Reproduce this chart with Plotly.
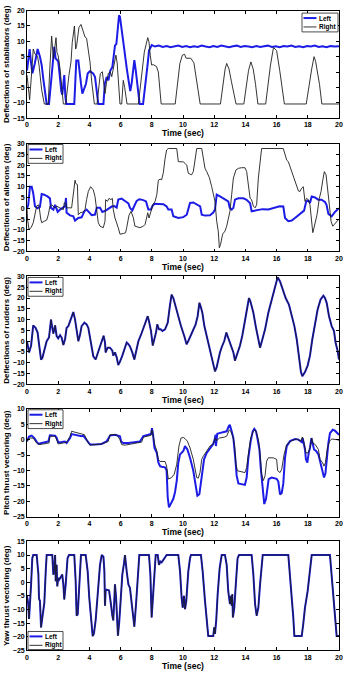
import plotly.graph_objects as go

# ---------------- data (time [s], deflection [deg]) ----------------
stab_left = [(0, 0.5), (0.1, 4), (0.17, 7.5), (0.26, 3), (0.35, -0.4), (0.5, 2.8), (0.68, 7.5), (0.83, 5),
             (0.94, 2.3), (1.05, -2.5), (1.26, -10.4), (1.41, -10.4), (1.53, -3.8), (1.66, 5), (1.75, 8.2),
             (1.83, 4.5), (2.0, 3.5), (2.04, 1.8), (2.14, -4.7), (2.2, -6.3), (2.26, -7.4), (2.35, -2.5),
             (2.39, -1), (2.46, -8), (2.52, -10.4), (3.03, -10.4), (3.08, -5), (3.16, 3.8), (3.29, 3.8),
             (3.35, 0.5), (3.46, -3.8), (3.55, -7), (3.68, -5.4), (3.78, -3.8), (3.89, -0.5), (4.04, 0.3),
             (4.25, -0.5), (4.36, -1.6), (4.57, -10.4), (4.9, -10.4), (4.99, -3.8), (5.11, -1.6), (5.22, -2.7),
             (5.34, 0.5), (5.47, 1.6), (5.55, 5), (5.64, 8.6), (5.73, 9.2), (5.9, 18.5), (5.96, 18),
             (6.07, 13.5), (6.2, 9.2), (6.28, 6), (6.41, 0.6), (6.54, -3.7), (6.62, -6.2), (6.71, -3.6),
             (6.82, 0.6), (6.88, 3.9), (6.97, 0.6), (7.05, -3.7), (7.14, -8), (7.22, -10.4), (7.44, -10.4),
             (7.52, -7.2), (7.61, -3.8), (7.74, 2.8), (7.82, 7), (7.95, 8.2), (8.0, 8.8), (8.2, 8.3),
             (8.45, 8.6), (8.7, 8.2), (8.95, 8.5), (9.2, 8.1), (9.45, 8.4), (9.7, 8.6), (9.95, 8.2),
             (10.2, 8.5), (10.45, 8.1), (10.7, 8.4), (10.95, 8.2), (11.2, 8.6), (11.45, 8.3), (11.7, 8.1),
             (11.95, 8.5), (12.2, 8.2), (12.45, 8.6), (12.7, 8.3), (12.95, 8.1), (13.2, 8.4), (13.45, 8.6),
             (13.7, 8.2), (13.95, 8.5), (14.2, 8.3), (14.45, 8.1), (14.7, 8.5), (14.95, 8.2), (15.2, 8.4),
             (15.45, 8.6), (15.7, 8.2), (15.95, 8.4), (16.2, 8.1), (16.45, 8.5), (16.7, 8.3), (16.95, 8.6),
             (17.2, 8.2), (17.45, 8.4), (17.7, 8.1), (17.95, 8.5), (18.2, 8.3), (18.45, 8.6), (18.7, 8.2),
             (18.95, 8.4), (19.2, 8.1), (19.45, 8.5), (19.7, 8.3), (20, 8.4)]
stab_right = [(0, -1), (0.08, -5), (0.17, -9), (0.3, 0), (0.4, 7.5), (0.5, 6), (0.68, 5), (0.77, 2.3),
              (0.94, -5.8), (1.11, -10.4), (1.36, -10.4), (1.45, 0), (1.58, 11.7), (1.69, 4.3), (1.86, 11.2),
              (1.92, 6.4), (2.0, 5.3), (2.12, 1), (2.22, -4.4), (2.33, -10.4), (2.48, -10.4), (2.61, -4),
              (2.69, -1), (2.82, 3.3), (2.9, 9.6), (3.04, 15), (3.12, 7.5), (3.18, 8.6), (3.33, 14.5),
              (3.46, 15.5), (3.59, 13.6), (3.72, 11.4), (3.82, 11), (3.93, 7.5), (4.04, 3.2), (4.15, -3.2),
              (4.32, -10.4), (4.49, -10.4), (4.57, -7.2), (4.7, -0.5), (4.83, 0.1), (4.93, -3.6), (5.0, -7),
              (5.09, -3.8), (5.21, -0.5), (5.34, 0.1), (5.43, -1.5), (5.51, 0.5), (5.6, 3), (5.7, 5.5),
              (5.78, 3), (5.96, -10.4), (6.07, -10.4), (6.17, -2.7), (6.26, -5), (6.41, -10.4), (7.14, -10.4),
              (7.3, -4), (7.4, 1.5), (7.52, 6.5), (7.74, 11.2), (7.82, 9.8), (7.9, 5.5), (7.99, 2.3),
              (8.1, 2.4), (8.3, 1.8), (8.42, 0), (8.5, -4.3), (8.6, -10.4), (9.5, -10.4), (9.65, -3.8),
              (9.8, 2.8), (9.96, 5.5), (10.1, 5.8), (10.2, 4.5), (10.5, 4.5), (10.7, 3), (10.85, -2),
              (11.0, -7), (11.1, -10.4), (12.4, -10.4), (12.55, -5), (12.7, 1), (12.8, 2.8), (12.95, 1),
              (13.1, -3), (13.2, -5.5), (13.4, -10.4), (13.9, -10.4), (14.05, -5), (14.2, 0.5), (14.35, 3.3),
              (14.5, 1), (14.65, -4), (14.8, -10.4), (15.3, -10.4), (15.45, -4), (15.6, 2), (15.8, 8),
              (16.0, 7), (16.2, 0.5), (16.35, -5), (16.5, -10.4), (17.9, -10.4), (18.05, -5), (18.25, 1),
              (18.4, 5), (18.5, 3.5), (18.75, -4), (18.9, -10.4), (20, -10.4)]

ail_left = [(0, 0), (0.08, 1.5), (0.19, 10), (0.3, 10), (0.4, 7), (0.51, 1), (0.68, 0), (0.83, 0.6),
            (0.94, 6.6), (1.1, 6.3), (1.31, 5.5), (1.47, 4.6), (1.54, 0.2), (1.69, -0.6), (1.8, 1.6),
            (1.97, -1.7), (2.12, -0.6), (2.33, 0.2), (2.44, 1), (2.5, 4.8), (2.54, -2.1), (2.76, -3.3),
            (2.97, -3.7), (3.08, -5.7), (3.29, -4.5), (3.5, -4.2), (3.68, -1.4), (3.82, -0.6), (4.04, -2.1),
            (4.15, -3.2), (4.36, -2.9), (4.47, 0.2), (4.68, 0.2), (4.83, -1.7), (5.04, -1.1), (5.21, -0.2),
            (5.43, 0.8), (5.6, 1), (5.75, 0.3), (5.85, 4), (6.07, 4.5), (6.28, 3.4), (6.5, 2.3), (6.6, 0.2),
            (6.75, -1), (6.81, 0), (7.03, 3.4), (7.2, 4.2), (7.41, 3.9), (7.63, 3.2), (7.78, -0.6),
            (7.95, -0.6), (8.04, 1), (8.17, 2.1), (8.42, 2.1), (8.74, 1.9), (8.95, 0.8), (9.06, -0.6),
            (9.27, -0.6), (9.38, -3.7), (9.7, -4.5), (10.02, -4.1), (10.24, -3.0), (10.45, 2.5), (10.66, 2.7),
            (10.88, 1.6), (11.1, 0.9), (11.2, -3), (11.41, -3.4), (11.73, -3.2), (11.94, -2), (12.05, -0.6),
            (12.16, 6.3), (12.37, 5.5), (12.58, 4.6), (12.8, 3.5), (12.9, 3.2), (13.0, 0.2), (13.12, -0.6),
            (13.23, 0.2), (13.33, 4), (13.55, 4.6), (13.87, 4.6), (14.08, 3.9), (14.3, 2.3), (14.4, -1.4),
            (14.62, -1.1), (14.94, -0.6), (15.1, -0.4), (15.47, -0.6), (15.8, 0.2), (16.0, 0.7), (16.2, 0.9),
            (16.43, 0.8), (16.54, -4.5), (16.75, -6), (16.97, -5.7), (17.18, -4.5), (17.4, -3.2),
            (17.61, -1.7), (17.76, -1.1), (17.9, 3.2), (18.03, 3.5), (18.14, 2.5), (18.25, 5.5), (18.46, 5),
            (18.67, 4), (18.88, 4), (19.1, 2.9), (19.2, 1.6), (19.32, -2.6), (19.53, -3.7), (19.74, -1.7),
            (19.96, -0.2), (20, 0)]
ail_right = [(0, 0), (0.04, -5.4), (0.13, -9.8), (0.26, -9), (0.4, -6.7), (0.51, -2.1), (0.62, 1), (0.73, 1.6),
             (0.79, 0.2), (0.87, -4.5), (0.94, -6.7), (1.11, -6), (1.26, -5.5), (1.37, -2.9), (1.47, 1),
             (1.58, 1.6), (1.69, 0.8), (1.8, 0.2), (1.9, 1), (2.0, 0.5), (2.18, -0.1), (2.33, -0.6),
             (2.39, 2.5), (2.48, 2.5), (2.54, 0.2), (2.86, 0.2), (2.97, 6.3), (3.08, 13), (3.12, 11.5),
             (3.23, 11), (3.29, -3), (3.4, -2.1), (3.61, -1.7), (3.72, -0.6), (3.82, 4), (3.93, 7.8),
             (4.08, 10), (4.25, 8.5), (4.36, 5.4), (4.42, 1.7), (4.53, -2.9), (4.57, -6.7), (4.68, -8.3),
             (4.89, -9), (5.0, -6), (5.04, 4), (5.15, 3.2), (5.26, 4.6), (5.38, 4), (5.47, 4.6), (5.53, -0.6),
             (5.64, -4.5), (5.85, -9), (5.96, -12), (6.17, -11.7), (6.32, -11.3), (6.39, -9), (6.54, -3.2),
             (6.67, -1.4), (6.81, -4.2), (6.92, -8.3), (7.24, -9), (7.46, -8.3), (7.57, -7.5), (7.74, -2.1),
             (7.82, -4.5), (7.95, -1.4), (8.06, 1.6), (8.21, 3.2), (8.32, 6.3), (8.42, 13), (8.53, 13.5),
             (8.63, 13.2), (8.74, 16.5), (8.85, 23), (8.95, 27), (9.06, 27.7), (9.6, 27.7), (9.7, 21.6),
             (9.81, 21.6), (10.02, 21.5), (10.13, 20.8), (10.24, 20), (10.34, 16.2), (10.55, 15.5),
             (10.66, 17), (10.77, 23), (10.88, 27.7), (11.2, 27.7), (11.3, 22.3), (11.41, 18.5), (11.52, 17),
             (11.69, 14.2), (11.84, 10), (11.94, 7), (12.05, 3.2), (12.16, -6), (12.26, -10.6), (12.33, -18.3),
             (12.41, -16.7), (12.54, -12), (12.69, -10.6), (12.8, -8.3), (12.9, -4.5), (13.01, -1.4),
             (13.12, 6.3), (13.23, 14), (13.4, 17.8), (13.55, 18.5), (13.76, 18.8), (13.97, 18.8), (14.08, 17),
             (14.19, 9.3), (14.3, 4.7), (14.4, 3.9), (14.51, 1), (14.62, 0.2), (14.72, 1.6), (14.83, 14),
             (14.94, 21.6), (15.04, 27.7), (16.43, 27.7), (16.54, 24.6), (16.65, 22.3), (16.75, 21.6),
             (16.86, 19.3), (17.07, 15.5), (17.18, 12.4), (17.33, 9.3), (17.4, 8), (17.5, 7.8), (17.6, 9.3),
             (17.71, 10), (17.76, 6.3), (17.82, 3.2), (17.92, 4.6), (18.03, 4), (18.14, 1.6), (18.25, -6),
             (18.32, -11.3), (18.4, -9), (18.59, -3), (18.74, 4.6), (18.85, 7.8), (18.96, 13), (19.06, 17),
             (19.17, 15.5), (19.28, 9.3), (19.38, 1.6), (19.49, -6), (19.6, -8.3), (19.7, -7.5), (19.8, -6.7),
             (19.9, -5.5), (20, -5)]

rud_both = [(0, 0), (0.13, -5.2), (0.26, -2.1), (0.4, 7.3), (0.55, 6.2), (0.68, 4), (0.77, -1.3), (0.9, -8.5),
            (0.98, -7.9), (1.11, -3.6), (1.26, 0), (1.41, 1.7), (1.54, 10), (1.62, 6.2), (1.69, 3.5),
            (1.8, 7.3), (1.9, 2.4), (2.0, 1.3), (2.12, 2.8), (2.22, 1.7), (2.33, -1.8), (2.44, 0.9),
            (2.54, 6.2), (2.65, 7), (2.82, 10), (2.97, 13.5), (3.08, 10), (3.18, 4.7), (3.29, 0), (3.4, 3),
            (3.5, 7), (3.68, 8.6), (3.82, 7.8), (3.93, 6.2), (4.04, 0.9), (4.15, -3.6), (4.25, -7),
            (4.4, -8.5), (4.53, -5.9), (4.68, -2.1), (4.83, 0.9), (4.91, 2.5), (5.0, -0.6), (5.04, -5.2),
            (5.17, -3), (5.32, -3), (5.47, -4.4), (5.53, -6.7), (5.64, -5.2), (5.75, -7.5), (5.85, -11),
            (5.96, -9.5), (6.11, -6.7), (6.28, -3.3), (6.39, -0.6), (6.5, -1.4), (6.6, -2.4), (6.75, -5.2),
            (6.88, -8.5), (7.03, -3.6), (7.14, 0), (7.31, 3), (7.46, 6.2), (7.61, 8.5), (7.74, 11.6),
            (7.82, 9.3), (7.95, 4.7), (8.06, -2), (8.17, 0.9), (8.27, 4), (8.35, 7.8), (8.46, 5.5),
            (8.57, 5.5), (8.68, 4.7), (8.85, 5.5), (9.02, 8.5), (9.17, 17), (9.27, 21.6), (9.38, 20),
            (9.49, 17), (9.66, 13.2), (9.87, 7), (10.08, 2.4), (10.23, -1.4), (10.34, 0.1), (10.49, 2.4),
            (10.66, 5.5), (10.81, 7.8), (10.94, 11.6), (11.05, 17.8), (11.13, 16.2), (11.24, 13.2),
            (11.37, 7), (11.52, 2.4), (11.67, -2.2), (11.84, -7.6), (11.94, -9.9), (12.05, -14), (12.16, -12),
            (12.26, -8.5), (12.37, -5.2), (12.48, -2.8), (12.65, 0.2), (12.78, 4), (12.9, 1.7), (13.01, -0.6),
            (13.12, -3), (13.23, -5.2), (13.33, -9), (13.48, -6), (13.65, -2.1), (13.8, 2.5), (13.97, 9.3),
            (14.15, 17), (14.23, 20), (14.32, 18.5), (14.51, 13.2), (14.68, 6.2), (14.83, 0.9), (14.94, -3),
            (15.09, 0.9), (15.26, 5.5), (15.47, 13.2), (15.64, 17.8), (15.79, 23), (15.94, 26.8),
            (16.07, 29.7), (16.22, 27.7), (16.37, 24.6), (16.58, 20), (16.79, 17), (16.97, 12.4), (17.14, 7),
            (17.29, 0.9), (17.44, -6.7), (17.56, -14.3), (17.65, -16.2), (17.82, -14.3), (17.99, -11.3),
            (18.14, -6.7), (18.29, 0.9), (18.46, 7), (18.63, 14.7), (18.82, 19.3), (19.0, 21.1), (19.1, 20),
            (19.21, 17.8), (19.36, 11.6), (19.53, 7), (19.68, 4.7), (19.78, -0.6), (19.91, -4.4), (20, -8.5)]

pitch_left = [(0, -0.5), (0.13, 1), (0.3, 1.3), (0.47, 0.5), (0.62, -0.7), (0.73, -1.4), (0.94, -1.1),
              (1.15, -0.9), (1.37, -0.6), (1.47, 1.4), (1.8, 1.3), (1.9, 0.6), (2.0, -0.9), (2.22, -0.8),
              (2.43, -0.6), (2.54, -1.1), (2.65, -0.3), (2.76, 0.5), (2.86, 1.8), (3.08, 1.6), (3.29, 1.4),
              (3.5, 1.1), (3.61, 1.3), (3.72, 0.5), (3.93, -1.1), (4.04, -1.6), (4.36, -1.6), (4.78, -1.4),
              (5.1, -0.6), (5.32, 1.3), (5.64, 1.6), (5.96, 1.1), (6.03, -0.6), (6.17, -1.1), (6.5, -1.1),
              (6.92, -0.8), (7.24, -0.6), (7.46, 1.1), (7.78, 1.4), (7.95, 1.8), (8.01, 3.7), (8.08, 1.6),
              (8.17, -2.7), (8.25, -3.7), (8.32, -4.3), (8.42, -7.4), (8.53, -8.6), (8.63, -8.8), (8.85, -9),
              (8.95, -10), (9.02, -18.7), (9.1, -22), (9.23, -20.5), (9.38, -19.2), (9.49, -17), (9.6, -13.3),
              (9.7, -7.5), (9.81, -4.8), (10.02, -3.7), (10.13, -2.1), (10.28, -3.2), (10.45, -5.9),
              (10.66, -10.1), (10.83, -15.4), (10.92, -18.2), (11.05, -17.7), (11.13, -15), (11.24, -10.1),
              (11.35, -6.4), (11.52, -4.3), (11.73, -2.7), (11.84, -1.8), (11.94, -1.4), (12.03, 0),
              (12.09, 1.6), (12.11, -2.1), (12.2, 1.9), (12.33, 2.1), (12.58, 2.4), (12.8, 2.7), (12.93, 4.3),
              (13.0, 4.8), (13.12, 2.7), (13.23, 0.5), (13.33, -4.8), (13.44, -11.7), (13.55, -14.2),
              (13.76, -14.5), (13.97, -14.7), (14.08, -12.3), (14.19, -5.9), (14.34, -0.5), (14.47, 2.7),
              (14.57, 3.5), (14.68, 2.7), (14.77, 0.5), (14.9, -3.2), (14.98, -9), (15.1, -14.5),
              (15.21, -20.9), (15.32, -19.3), (15.4, -15.5), (15.49, -12.8), (15.68, -12.3), (15.9, -12.5),
              (16.0, -12.7), (16.11, -13.6), (16.22, -17.8), (16.33, -17.3), (16.43, -14.2), (16.54, -5.9),
              (16.65, -2.1), (16.86, -0.5), (17.18, 0.2), (17.4, 0), (17.61, -0.8), (17.67, 0.5),
              (17.76, -1.6), (17.82, -3.2), (17.88, -6.4), (17.97, -7.5), (18.06, -4.3), (18.14, -2.7),
              (18.23, 0.5), (18.32, -1.6), (18.4, -3.2), (18.53, -3.7), (18.68, -4.8), (18.78, -6.9),
              (18.95, -11), (19.04, -12.3), (19.13, -11), (19.21, -6.4), (19.32, -1.1), (19.42, 2.1),
              (19.6, 3.2), (19.74, 2.9), (19.89, 2.1), (20, 1.6)]
pitch_right = [(0, -0.7), (0.13, 0.5), (0.4, 0.5), (0.62, -1.1), (0.83, -1.6), (1.15, -1.4), (1.41, -1.1),
               (1.47, 1.1), (1.8, 1.1), (1.94, -0.5), (2.0, -1.4), (2.54, -0.9), (2.76, 1.1), (2.86, 2.7),
               (3.08, 2.4), (3.4, 1.9), (3.68, 1.6), (3.93, -1.1), (4.04, -1.8), (4.78, -1.4), (5.21, -0.6),
               (5.32, 1.6), (5.75, 1.6), (5.96, 0), (6.07, -1.6), (6.28, -1.8), (6.92, -1.2), (7.35, -0.8),
               (7.46, 0.8), (7.95, 1.4), (8.01, 3.2), (8.1, 0.5), (8.21, -2.1), (8.3, -3.2), (8.42, -6.4),
               (8.53, -7.1), (8.85, -7.1), (8.95, -8.6), (9.06, -12.8), (9.27, -12.3), (9.44, -11.2),
               (9.6, -8), (9.74, -2.1), (9.87, 0.5), (10.02, 0.7), (10.13, 0.3), (10.28, -0.5), (10.45, -2.7),
               (10.66, -6.4), (10.88, -12.3), (10.98, -12.5), (11.09, -10.7), (11.2, -6.4), (11.3, -5.4),
               (11.52, -3.7), (11.73, -2.1), (11.94, -1.4), (12.07, 0.5), (12.16, -0.3), (12.33, 0.5),
               (12.65, 0.8), (12.8, 1.1), (12.97, 3.2), (13.06, 2.7), (13.19, 1.1), (13.3, -1.6), (13.4, -8),
               (13.48, -10.1), (13.97, -10.7), (14.08, -9.1), (14.19, -4.8), (14.34, 0.5), (14.51, 2.7),
               (14.62, 3.2), (14.72, 2.1), (14.85, -0.5), (14.94, -4.8), (15.04, -11.2), (15.15, -13.3),
               (15.26, -11.7), (15.36, -7), (15.47, -5.9), (15.79, -5.9), (16.0, -6.4), (16.07, -10.1),
               (16.22, -10.7), (16.33, -9.6), (16.48, -4.8), (16.65, -1.6), (16.97, -0.3), (17.29, 0.2),
               (17.55, -0.5), (17.65, 0.8), (17.76, -1.1), (17.88, -4.3), (18.03, -4.3), (18.14, -2.7),
               (18.25, 0.5), (18.32, -1.1), (18.48, -1.6), (18.68, -3.2), (18.78, -6.4), (18.95, -7.5),
               (19.04, -8.6), (19.13, -7.5), (19.26, -2.7), (19.4, -0.5), (19.53, 0.2), (19.85, 0), (20, -0.2)]

yaw_both = [(0, -5), (0.08, -8), (0.13, -13.5), (0.19, -8.6), (0.26, -1), (0.34, 8.8), (0.4, 10), (0.62, 10),
            (0.73, 3), (0.77, -6), (0.83, -6.9), (0.9, -16.6), (0.98, -13), (1.11, -7.6), (1.2, 4),
            (1.26, 10), (1.62, 10), (1.69, 2.8), (1.75, 4.6), (1.8, 10), (1.84, 0.4), (1.9, 6.4),
            (1.94, -1.5), (2.01, 1.6), (2.07, 1), (2.18, 2.2), (2.26, 2.8), (2.33, -0.8), (2.39, -6.3),
            (2.48, -0.8), (2.6, 8.8), (2.69, 10), (3.03, 10), (3.12, 0.4), (3.18, -12.3), (3.25, -11.8),
            (3.35, -0.8), (3.46, 10), (3.76, 10), (3.89, 4), (3.99, -5.6), (4.1, -14), (4.21, -19.8),
            (4.29, -18.9), (4.4, -14), (4.53, -4.6), (4.68, 6.4), (4.79, 10), (4.9, 9.4), (4.96, 4),
            (5.0, -8.6), (5.04, -3.3), (5.11, -2.7), (5.26, -3), (5.32, -5), (5.38, -8), (5.47, -12.3),
            (5.53, -14), (5.58, -8.6), (5.64, -0.8), (5.71, -5.6), (5.77, -16.3), (5.83, -19.6), (5.92, -14),
            (6.0, -5.6), (6.11, 2.8), (6.22, 7), (6.28, 10), (6.39, 4), (6.5, -0.8), (6.6, -2.1),
            (6.71, -7.5), (6.81, -11.8), (6.88, -16.3), (6.99, -8), (7.09, 1.6), (7.2, 10), (7.82, 10),
            (7.91, 2.8), (7.99, -12.9), (8.08, -4.6), (8.16, 4), (8.25, 10), (8.38, 10), (8.46, 6.4),
            (8.55, 7.6), (8.63, 7.3), (8.74, 8.2), (8.85, 9.4), (8.95, 10), (9.7, 10), (9.81, 4),
            (9.91, -5.6), (9.98, -9.3), (10.06, -5), (10.13, -9.9), (10.21, -6.9), (10.34, 4), (10.45, 8.8),
            (10.51, 10), (11.15, 10), (11.26, 4), (11.41, -6.9), (11.52, -15.3), (11.62, -19.8),
            (11.94, -19.8), (12.0, -16.6), (12.05, -19), (12.13, -14), (12.22, -4.6), (12.35, 5.2),
            (12.48, 10), (12.69, 10), (12.8, 6.4), (12.9, -3.3), (13.01, -8), (13.08, -5), (13.12, -8.6),
            (13.16, -4.4), (13.2, -12.9), (13.29, -9.3), (13.37, -2.1), (13.5, 8.8), (13.59, 10), (14.4, 10),
            (14.51, 2.8), (14.62, -8), (14.72, -12.3), (14.83, -9.3), (14.94, -0.8), (15.04, 7.6),
            (15.11, 10), (16.75, 10), (16.86, 2.8), (16.97, -5.6), (17.07, -12.9), (17.14, -19.8),
            (17.61, -19.8), (17.71, -15.3), (17.82, -9.3), (17.99, -3.3), (18.14, 5.2), (18.25, 10),
            (19.42, 10), (19.53, 2.8), (19.63, -5.6), (19.74, -12.9), (19.85, -19.8), (20, -19.8)]

series_names = ["Left", "Right"]
y_titles = ["Deflections of stabilators (deg)", "Deflections of ailerons (deg)",
            "Deflections of rudders (deg)", "Pitch thrust vectoring (deg)", "Yaw thrust vectoring (deg)"]
y_ranges = [(-15, 20), (-20, 30), (-20, 30), (-25, 10), (-25, 15)]
x_ticks = [0, 2, 4, 6, 8, 10, 12, 14, 16, 18, 20]
panels = [(stab_left, stab_right), (ail_left, ail_right), (rud_both, rud_both),
          (pitch_left, pitch_right), (yaw_both, yaw_both)]

# ---------------- styling ----------------
W, H = 343, 680
ML, MR = 27, 4
panel_px = [(6.7, 115.3), (141, 250), (275.3, 384.3), (409, 518), (543, 653)]  # top, bottom in px
BLUE = "#1c1ce6"
BLACK = "#1e1e1e"
FONT = "Liberation Sans"

fig = go.Figure()
layout = dict(width=W, height=H, margin=dict(l=ML, r=MR, t=0, b=0),
              paper_bgcolor="white", plot_bgcolor="white", showlegend=False)

shapes, annotations = [], []
for i, (left, right) in enumerate(panels):
    n = "" if i == 0 else str(i + 1)
    xa, ya = "x" + n, "y" + n
    top, bot = panel_px[i]
    dom = [1 - bot / H, 1 - top / H]
    lt, lv = zip(*left)
    rt, rv = zip(*right)
    fig.add_trace(go.Scatter(x=lt, y=lv, mode="lines", name=series_names[0], xaxis=xa, yaxis=ya,
                             line=dict(color=BLUE, width=2)))
    fig.add_trace(go.Scatter(x=rt, y=rv, mode="lines", name=series_names[1], xaxis=xa, yaxis=ya,
                             line=dict(color=BLACK, width=0.9)))
    axfont = dict(family=FONT, size=7, color="black", weight="bold")
    layout["xaxis" + n] = dict(domain=[0, 1], anchor=ya, range=[0, 20], tickvals=x_ticks,
                               showline=True, linecolor="black", linewidth=0.8, mirror="ticks",
                               ticks="inside", ticklen=3, tickwidth=0.7, tickcolor="black",
                               showgrid=False, zeroline=False, tickfont=axfont,
                               title=dict(text="Time (sec)", standoff=1,
                                          font=dict(family=FONT, size=8.5, color="black", weight="bold")))
    y0, y1 = y_ranges[i]
    layout["yaxis" + n] = dict(domain=dom, anchor=xa, range=[y0, y1], dtick=5,
                               showline=True, linecolor="black", linewidth=0.8, mirror="ticks",
                               ticks="inside", ticklen=3, tickwidth=0.7, tickcolor="black",
                               showgrid=False, zeroline=False, tickfont=axfont,
                               title=dict(text=y_titles[i], standoff=2,
                                          font=dict(family=FONT, size=8, color="black", weight="bold")))
    # legend box (drawn in axis-domain coordinates)
    h = bot - top
    if i == 0:
        bx0, bx1 = 302, 338
        by0, by1 = top + 2.5, top + 21.5
    elif i == 4:
        bx0, bx1 = 28, 63
        by0, by1 = 634, 652.3
    else:
        bx0, bx1 = 28, 63
        by0, by1 = top + 1, top + 20
    fx = lambda px: (px - ML) / (W - ML - MR)
    fy = lambda py: 1 - (py - top) / h
    xr, yr = xa + " domain", ya + " domain"
    shapes.append(dict(type="rect", xref=xr, yref=yr, x0=fx(bx0), x1=fx(bx1), y0=fy(by1), y1=fy(by0),
                       line=dict(color="black", width=0.7), fillcolor="white", layer="above"))
    row1 = by0 + 5
    row2 = by0 + 14
    for name, ry, col, wd in [(series_names[0], row1, BLUE, 2), (series_names[1], row2, BLACK, 0.9)]:
        shapes.append(dict(type="line", xref=xr, yref=yr, x0=fx(bx0 + 1.5), x1=fx(bx0 + 14.5),
                           y0=fy(ry), y1=fy(ry), line=dict(color=col, width=wd), layer="above"))
        annotations.append(dict(xref=xr, yref=yr, x=fx(bx0 + 15), y=fy(ry), text=name, showarrow=False,
                                xanchor="left", yanchor="middle",
                                font=dict(family=FONT, size=6.5, color="black", weight="bold")))

layout["shapes"] = shapes
layout["annotations"] = annotations
fig.update_layout(**layout)
fig.write_html("out.html")
